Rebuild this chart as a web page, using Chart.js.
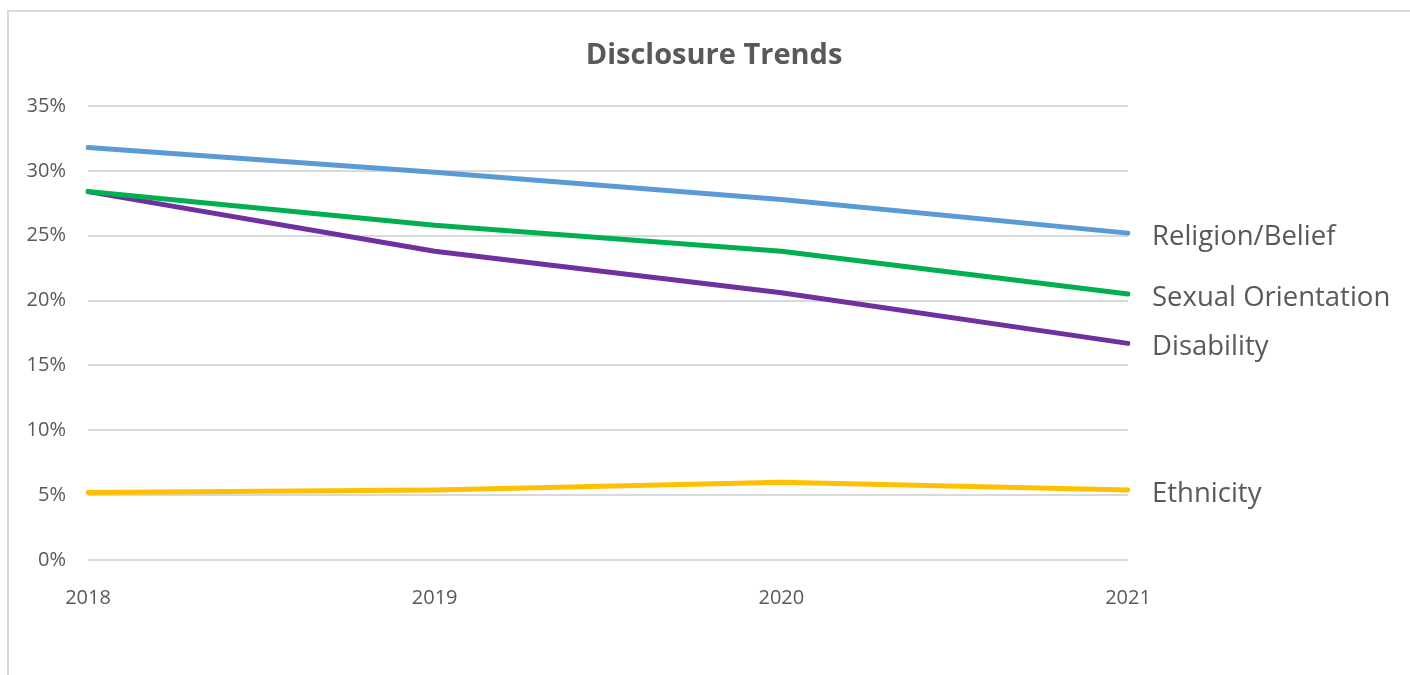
<!DOCTYPE html>
<html>
<head>
<meta charset="utf-8">
<script src="https://cdn.jsdelivr.net/npm/chart.js@4/dist/chart.umd.min.js"></script>
<style>
  body { margin: 0; background: #fff; overflow: hidden; }
  #frame {
    position: absolute; left: 7px; top: 10px;
    width: 1420px; height: 700px;
    border: 2px solid #d9d9d9;
  }
  #wrap { position: absolute; left: 0; top: 0; width: 1410px; height: 675px; }
</style>
</head>
<body>
<div id="frame"></div>
<div id="wrap"><canvas id="trendChart" width="1410" height="675"></canvas></div>
<script>
const years = ['2018', '2019', '2020', '2021'];
const religion = [31.8, 29.9, 27.8, 25.2];
const sexualOrientation = [28.4, 25.8, 23.8, 20.5];
const disability = [28.4, 23.8, 20.6, 16.7];
const ethnicity = [5.2, 5.4, 6.0, 5.4];

const chartTitle = 'Disclosure Trends';
const textGrey = '#595959';

// title centred on the whole frame + series names next to each line end
const annotations = {
  id: 'annotations',
  afterDatasetsDraw(chart) {
    const ctx = chart.ctx;
    ctx.save();
    ctx.fillStyle = textGrey;
    ctx.textBaseline = 'middle';

    ctx.textAlign = 'center';
    ctx.font = 'bold 29px "Open Sans"';
    ctx.fillText(chartTitle, chart.width / 2 + 9, 56);

    ctx.textAlign = 'left';
    ctx.font = '27.5px "Open Sans"';
    chart.data.datasets.forEach((ds, i) => {
      const pts = chart.getDatasetMeta(i).data;
      const last = pts[pts.length - 1];
      ctx.fillText(ds.label, last.x + 24, last.y + 4);
    });
    ctx.restore();
  }
};

new Chart(document.getElementById('trendChart').getContext('2d'), {
  type: 'line',
  data: {
    labels: years,
    datasets: [
      { label: 'Religion/Belief', data: religion, borderColor: '#5B9BD5' },
      { label: 'Sexual Orientation', data: sexualOrientation, borderColor: '#00B050' },
      { label: 'Disability', data: disability, borderColor: '#7030A0' },
      { label: 'Ethnicity', data: ethnicity, borderColor: '#FFC000' }
    ]
  },
  options: {
    responsive: false,
    animation: false,
    elements: {
      line: { borderWidth: 5, tension: 0, borderCapStyle: 'round', borderJoinStyle: 'round' },
      point: { radius: 0 }
    },
    layout: { padding: { top: 106, right: 282, bottom: 0, left: 0 } },
    plugins: {
      legend: { display: false },
      tooltip: { enabled: false },
      title: { display: false }
    },
    scales: {
      x: {
        offset: false,
        grid: { display: false },
        border: { display: false },
        ticks: { color: textGrey, font: { family: 'Open Sans', size: 20 }, padding: 18, maxRotation: 0 },
        afterFit(scale) { scale.height = 115; }
      },
      y: {
        min: 0,
        max: 35,
        grid: { color: '#d9d9d9', lineWidth: 2, drawTicks: false },
        border: { display: false },
        ticks: {
          stepSize: 5,
          color: textGrey,
          font: { family: 'Open Sans', size: 20 },
          padding: 22,
          callback: v => v + '%'
        },
        afterFit(scale) { scale.width = 88; }
      }
    }
  },
  plugins: [annotations]
});
</script>
</body>
</html>
